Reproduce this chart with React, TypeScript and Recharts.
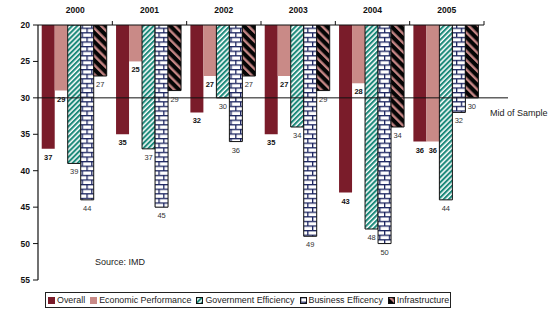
import React from 'react';
import { BarChart, Bar, XAxis, YAxis, ReferenceLine, LabelList } from 'recharts';

const years = ['2000', '2001', '2002', '2003', '2004', '2005'];
const overall = [37, 35, 32, 35, 43, 36];
const economic = [29, 25, 27, 27, 28, 36];
const government = [39, 37, 30, 34, 48, 44];
const business = [44, 45, 36, 49, 50, 32];
const infrastructure = [27, 29, 27, 29, 34, 30];
const yTicks = [20, 25, 30, 35, 40, 45, 50, 55];
const midValue = 30;

const seriesNames = ['Overall', 'Economic Performance', 'Government Efficiency', 'Business Efficency', 'Infrastructure'];
const seriesKeys = ['overall', 'economic', 'government', 'business', 'infrastructure'];
const seriesFills = ['#7A1C2A', '#C98A87', 'url(#govPat)', 'url(#brickPat)', 'url(#infraPat)'];
const seriesStroke = ['none', 'none', '#111', '#111', '#111'];
const boldLabel = [true, true, false, false, false];

const data = years.map((y, i) => ({
  year: y,
  overall: overall[i],
  economic: economic[i],
  government: government[i],
  business: business[i],
  infrastructure: infrastructure[i],
}));

const FONT = "'Liberation Sans', Arial, sans-serif";
const W = 558;
const H = 309;
const M = { top: 5, right: 74, bottom: 29, left: 0 };
const Y_W = 38;
const catW = (W - Y_W - M.right - M.left) / years.length;

const Patterns = ({ p = '' }: { p?: string }) => (
  <defs>
    <pattern id={p + 'govPat'} patternUnits="userSpaceOnUse" width="3.6" height="3.6" patternTransform="rotate(45)">
      <rect x="0" y="0" width="3.6" height="3.6" fill="#fff" />
      <rect x="0" y="0" width="2.1" height="3.6" fill="#1E8A7B" />
    </pattern>
    <pattern id={p + 'infraPat'} patternUnits="userSpaceOnUse" width="6.5" height="6.5" patternTransform="rotate(-45)">
      <rect x="0" y="0" width="6.5" height="6.5" fill="#050505" />
      <rect x="0" y="0" width="2.4" height="6.5" fill="#C48584" />
    </pattern>
    <pattern id={p + 'brickPat'} patternUnits="userSpaceOnUse" width="9.6" height="9.2">
      <rect x="0" y="0" width="9.6" height="9.2" fill="#1C2560" />
      <rect x="1.3" y="1.3" width="8.3" height="3.3" fill="#fff" />
      <rect x="-3.5" y="5.9" width="8.3" height="3.3" fill="#fff" />
      <rect x="6.1" y="5.9" width="8.3" height="3.3" fill="#fff" />
    </pattern>
  </defs>
);

const makeLabel = (bold: boolean) => (props: any) => {
  const { x, y, width, height, value } = props;
  const bottom = Math.max(y, y + height);
  return (
    <text
      x={x + width / 2}
      y={bottom + 11}
      textAnchor="middle"
      fontFamily={FONT}
      fontSize={7.5}
      fontWeight={bold ? 'bold' : 'normal'}
      fill={bold ? '#111' : '#333'}
    >
      {value}
    </text>
  );
};

const YearTick = (props: any) => {
  const { x, payload } = props;
  return (
    <g>
      <text x={x} y={13} textAnchor="middle" fontFamily={FONT} fontSize={8.5} fontWeight="bold" fill="#111">
        {payload.value}
      </text>
      <line x1={x + catW / 2} x2={x + catW / 2} y1={21} y2={25} stroke="#111" strokeWidth={1} />
    </g>
  );
};

const MidLine = (props: any) => {
  const { x1, y1, x2, y2 } = props;
  return (
    <g>
      <line x1={x1} y1={y1} x2={x2 + 24} y2={y2} stroke="#111" strokeWidth={1} />
      <text x={x2 + 6} y={y1 + 18} fontFamily={FONT} fontSize={9} fill="#222">
        Mid of Sample
      </text>
    </g>
  );
};

const legendIcon = (i: number) => (
  <svg width={7} height={7} style={{ display: 'block', flex: 'none' }}>
    <Patterns p={'lg' + i} />
    <rect
      x={0.5}
      y={0.5}
      width={6}
      height={6}
      fill={i < 2 ? seriesFills[i] : seriesFills[i].replace('url(#', 'url(#lg' + i)}
      stroke={i < 2 ? seriesFills[i] : '#111'}
    />
  </svg>
);

export default function App() {
  return (
    <div style={{ position: 'absolute', left: 0, top: 0, width: W, height: H, background: '#fff' }}>
      <BarChart width={W} height={H} data={data} margin={M} barCategoryGap="5%" barGap={0}>
        <Patterns />
        <XAxis
          dataKey="year"
          orientation="top"
          xAxisId={0}
          height={20}
          axisLine={{ stroke: '#111', strokeWidth: 1.2 }}
          tickLine={false}
          tick={<YearTick />}
          interval={0}
        />
        <YAxis
          reversed
          domain={[20, 55]}
          ticks={yTicks}
          interval={0}
          width={Y_W}
          allowDataOverflow
          axisLine={{ stroke: '#111', strokeWidth: 1.2 }}
          tickLine={{ stroke: '#111' }}
          tickSize={5}
          tickMargin={3}
          tick={{ fontFamily: FONT, fontSize: 8.5, fontWeight: 'bold', fill: '#111' }}
        />
        {seriesKeys.map((k, i) => (
          <Bar
            key={k}
            dataKey={k}
            name={seriesNames[i]}
            fill={seriesFills[i]}
            stroke={seriesStroke[i]}
            strokeWidth={1}
            isAnimationActive={false}
          >
            <LabelList dataKey={k} content={makeLabel(boldLabel[i])} />
          </Bar>
        ))}
        <ReferenceLine y={midValue} stroke="#111" shape={<MidLine />} />
      </BarChart>
      <div
        style={{
          position: 'absolute',
          left: 95,
          top: 257,
          fontFamily: FONT,
          fontSize: 9,
          color: '#222',
          whiteSpace: 'nowrap',
        }}
      >
        Source: IMD
      </div>
      <div
        style={{
          position: 'absolute',
          left: 45,
          top: 292,
          width: 406,
          height: 16,
          boxSizing: 'border-box',
          border: '1px solid #222',
          display: 'flex',
          alignItems: 'center',
          justifyContent: 'flex-start',
          gap: 5,
          padding: '0 0 0 2px',
          fontFamily: FONT,
          fontSize: 8.9,
          color: '#222',
          whiteSpace: 'nowrap',
          overflow: 'hidden',
        }}
      >
        {seriesNames.map((n, i) => (
          <div key={n} style={{ display: 'flex', alignItems: 'center', gap: 2 }}>
            {legendIcon(i)}
            <span>{n}</span>
          </div>
        ))}
      </div>
    </div>
  );
}
